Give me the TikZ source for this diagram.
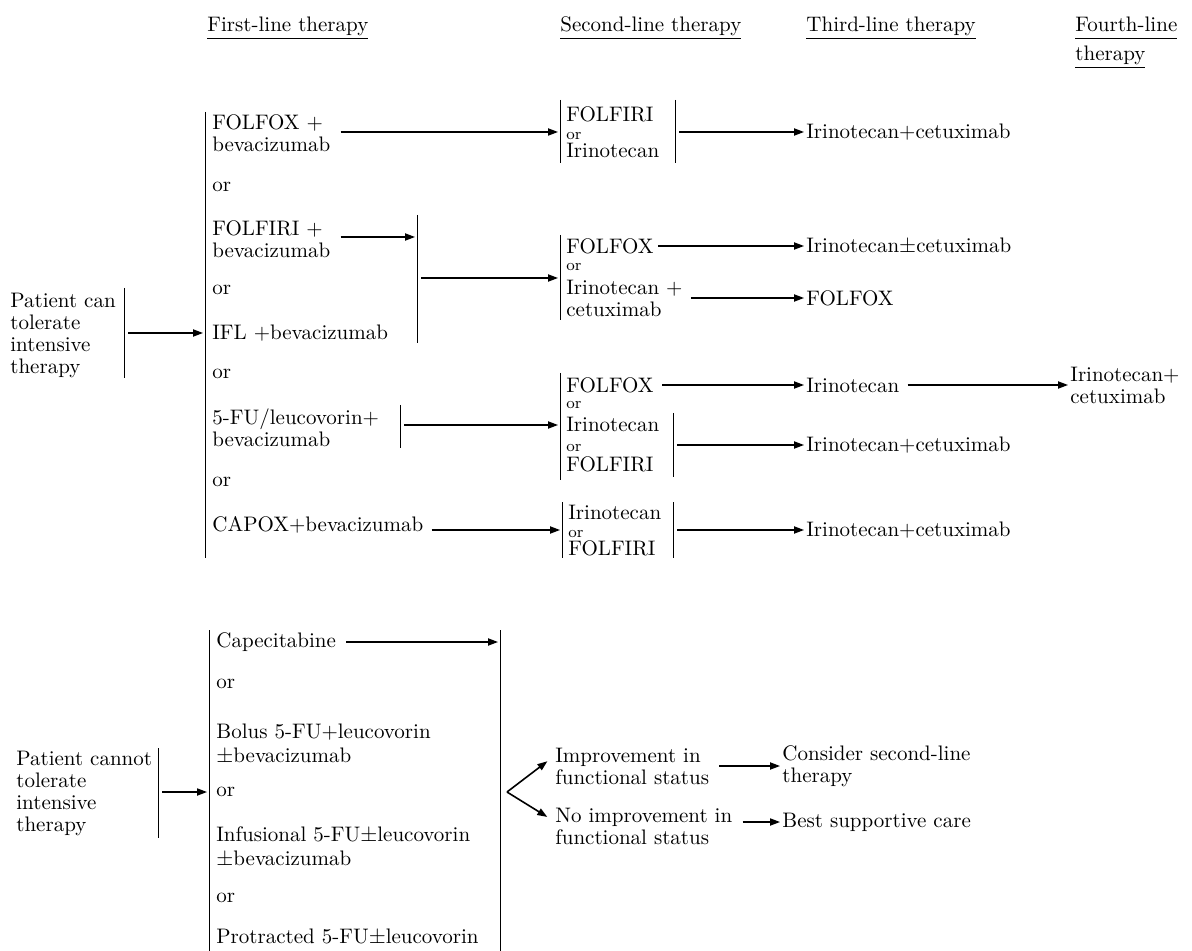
\documentclass[tikz,border=0pt]{standalone}
\usepackage{tikz}
\usetikzlibrary{arrows.meta, positioning}

\newcommand{\smallor}{{\footnotesize or}}

\begin{document}
\begin{tikzpicture}[
		x=0.5pt, y=-0.5pt, % one unit is one pixel of the page
		>={Triangle[length=5pt,width=3.6pt]},
		txt/.style={
				anchor=west,
				inner sep=0pt,
				align=left,
				font=\fontsize{10.5}{11}\selectfont
			},
		pmtxt/.style={
				txt,
				font=\fontsize{10.5}{12}\selectfont % lines with a plus-minus
			},
		boxtxt/.style={
				txt,
				font=\fontsize{10.5}{9}\selectfont % tighter lines in the second-line boxes
			},
		head/.style={
				txt
			},
		bar/.style={
				line width=0.5pt
			},
		conn/.style={
				->,
				line width=0.65pt,
				shorten <=2pt,
				shorten >=1pt
			}
	]
	\useasboundingbox (0,0) rectangle (1192,951);

	% Headers
	\node[head] (h1) at (207,28) {\underline{First-line therapy}};
	\node[head] (h2) at (560,28) {\underline{Second-line therapy}};
	\node[head] (h3) at (806,28) {\underline{Third-line therapy}};
	\node[head] (h4) at (1075,28) {\underline{Fourth-line\vphantom{y}}};
	\node[head] (h4b) at (1075,57) {\underline{therapy}};

	% Nodes, patient can tolerate
	\node[txt] (pc) at (10,335) {Patient can\\tolerate\\intensive\\therapy};
	\node[txt] (f1) at (212,133) {FOLFOX +\\bevacizumab};
	\node[txt] (o1) at (212,187) {or};
	\node[txt] (f2) at (212,239) {FOLFIRI +\\bevacizumab};
	\node[txt] (o2) at (212,290) {or};
	\node[txt] (f3) at (212,333) {IFL +bevacizumab};
	\node[txt] (o3) at (212,374) {or};
	\node[txt] (f4) at (212,428) {5-FU/leucovorin+\\bevacizumab};
	\node[txt] (o4) at (212,482) {or};
	\node[txt] (f5) at (212,525) {CAPOX+bevacizumab};

	\node[boxtxt] (sa) at (566,132) {FOLFIRI\\\smallor\\Irinotecan};
	\node[txt] (sbf) at (566,246) {FOLFOX};
	\node[boxtxt] (sbo) at (566,267) {\smallor};
	\node[txt] (sbi) at (566,298) {Irinotecan +\\cetuximab};
	\node[txt] (scf) at (566,385) {FOLFOX};
	\node[boxtxt] (sco) at (566,405) {\smallor};
	\node[boxtxt, font=\fontsize{10.5}{10}\selectfont] (sci) at (566,445) {Irinotecan\\\smallor\\FOLFIRI};
	\node[boxtxt] (sd) at (568,531) {Irinotecan\\\smallor\\FOLFIRI};

	\node[txt] (ta) at (806,132) {Irinotecan+cetuximab};
	\node[txt] (tb) at (806,246) {Irinotecan$\pm$cetuximab};
	\node[txt] (tc) at (806,298) {FOLFOX};
	\node[txt] (td) at (806,385) {Irinotecan};
	\node[txt] (te) at (806,445) {Irinotecan+cetuximab};
	\node[txt] (tf) at (806,530) {Irinotecan+cetuximab};
	\node[txt] (qa) at (1070,385) {Irinotecan+\\cetuximab};

	% Nodes, patient cannot tolerate
	\node[txt] (pn) at (16,793) {Patient cannot\\tolerate\\intensive\\therapy};
	\node[txt] (c1) at (216,642) {Capecitabine};
	\node[txt] (p1) at (216,684) {or};
	\node[pmtxt] (c2) at (216,744) {Bolus 5-FU+leucovorin\\$\pm$bevacizumab};
	\node[txt] (p2) at (216,792) {or};
	\node[pmtxt] (c3) at (216,847) {Infusional 5-FU$\pm$leucovorin\\$\pm$bevacizumab};
	\node[txt] (p3) at (216,898) {or};
	\node[txt] (c4) at (216,937) {Protracted 5-FU$\pm$leucovorin};
	\node[txt] (im) at (555,766) {Improvement in\\functional status};
	\node[txt] (ni) at (555,826) {No improvement in\\functional status};
	\node[txt] (cs) at (782,766) {Consider second-line\\therapy};
	\node[txt] (bs) at (782,822) {Best supportive care};

	% Bars
	\foreach \bx/\ba/\bb in {124/288/378, 205/112/558, 417/215/343, 400/405/448,
			560/100/163, 675/100/163, 560/235/320, 560/373/480, 673/413/477,
			562/502/558, 673/502/558, 158/748/838, 209/630/951, 500/630/951}
		\draw[bar] (\bx,\ba) -- (\bx,\bb);

	% Arrow ends on the bars
	\coordinate (pcM) at (124,333);
	\coordinate (fM) at (205,333);
	\coordinate (mIn) at (417,237);
	\coordinate (mM) at (417,278);
	\coordinate (uM) at (400,425);
	\coordinate (aIn) at (560,132);
	\coordinate (aOut) at (675,132);
	\coordinate (bIn) at (560,278);
	\coordinate (cIn) at (560,425);
	\coordinate (cOut) at (673,445);
	\coordinate (dIn) at (562,530);
	\coordinate (dOut) at (673,530);
	\coordinate (pnM) at (158,792);
	\coordinate (gM) at (209,792);
	\coordinate (gCap) at (500,642);
	\coordinate (vA) at (507,792);

	% Paths
	\draw[conn] (pcM) -- (fM);
	\draw[conn, shorten <=5pt] (f1.east |- aIn) -- (aIn);
	\draw[conn, shorten <=5pt] (f2.east |- mIn) -- (mIn);
	\draw[conn] (mM) -- (bIn);
	\draw[conn] (uM) -- (cIn);
	\draw[conn, shorten <=4pt] (f5.east |- dIn) -- (dIn);

	\draw[conn] (aOut) -- (ta.west);
	\draw[conn, shorten <=2pt] (sbf.east) -- (tb.west);
	\draw[conn, shorten <=4pt] (sbi.east) -- (tc.west);
	\draw[conn, shorten <=4pt] (scf.east) -- (td.west);
	\draw[conn, shorten <=4pt] (td.east) -- (qa.west);
	\draw[conn] (cOut) -- (te.west);
	\draw[conn] (dOut) -- (tf.west);

	\draw[conn] (pnM) -- (gM);
	\draw[conn, shorten <=5pt] (c1.east) -- (gCap);
	\draw[conn, shorten <=0pt, line width=0.8pt] (vA) -- ([xshift=-3pt,yshift=3pt]im.west);
	\draw[conn, shorten <=0pt, line width=0.8pt] (vA) -- ([xshift=-3pt,yshift=4pt]ni.west);
	\draw[conn, shorten <=5pt] (im.east) -- (cs.west);
	\draw[conn, shorten <=5pt] (ni.east |- bs.west) -- (bs.west);
\end{tikzpicture}
\end{document}
